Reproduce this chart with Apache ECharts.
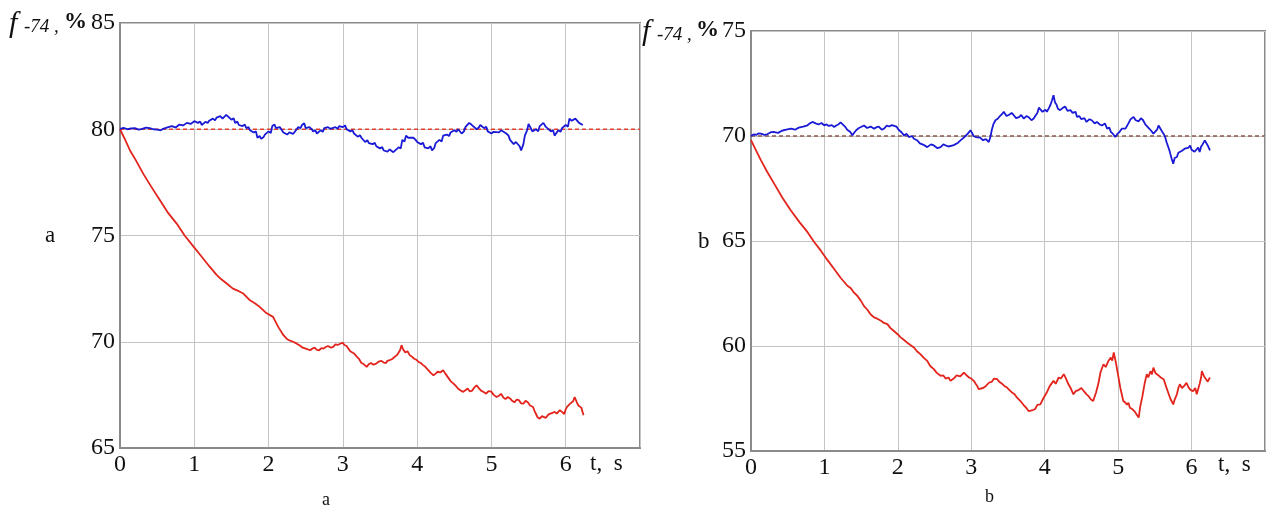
<!DOCTYPE html>
<html>
<head>
<meta charset="utf-8">
<script src="https://cdn.jsdelivr.net/npm/echarts@6/dist/echarts.min.js"></script>
<style>
  html, body { margin: 0; padding: 0; background: #fff; }
  #main { width: 1275px; height: 513px; }
</style>
</head>
<body>
<div id="main"></div>
<script>
// panel a: reference level and two traces [t, f]
const refA = 80;
const blueA = [[0,80.02],[0.05,80.06],[0.1,80.0],[0.15,80.04],[0.2,80.05],[0.25,79.98],[0.3,80.02],[0.35,80.08],[0.4,80.05],[0.45,80.0],[0.5,79.98],[0.55,79.95],[0.58,80.02],[0.6,80.0],[0.65,80.1],[0.7,80.15],[0.75,80.08],[0.8,80.22],[0.85,80.18],[0.9,80.3],[0.95,80.25],[1.0,80.38],[1.05,80.3],[1.08,80.36],[1.1,80.2],[1.15,80.35],[1.18,80.3],[1.2,80.4],[1.25,80.5],[1.28,80.42],[1.3,80.55],[1.35,80.62],[1.38,80.5],[1.4,80.55],[1.43,80.68],[1.45,80.6],[1.5,80.45],[1.53,80.52],[1.55,80.3],[1.58,80.36],[1.6,80.2],[1.65,80.15],[1.68,80.22],[1.7,80.05],[1.73,80.1],[1.75,79.95],[1.8,79.85],[1.83,79.9],[1.85,79.6],[1.88,79.68],[1.9,79.55],[1.93,79.62],[1.95,79.75],[2.0,79.9],[2.03,79.82],[2.05,80.15],[2.08,80.22],[2.1,80.05],[2.15,80.1],[2.18,79.95],[2.2,79.85],[2.25,79.75],[2.28,79.85],[2.3,79.9],[2.33,79.78],[2.35,79.85],[2.4,80.1],[2.43,80.05],[2.45,80.2],[2.48,80.28],[2.5,80.05],[2.55,80.1],[2.58,80.0],[2.6,79.9],[2.63,79.95],[2.65,79.8],[2.7,79.95],[2.73,79.88],[2.75,80.05],[2.8,80.1],[2.83,80.02],[2.85,79.95],[2.9,80.1],[2.93,80.02],[2.95,80.15],[3.0,80.1],[3.03,80.18],[3.05,80.0],[3.1,79.9],[3.13,79.95],[3.15,79.8],[3.2,79.65],[3.23,79.72],[3.25,79.6],[3.3,79.4],[3.33,79.48],[3.35,79.35],[3.4,79.3],[3.43,79.36],[3.45,79.2],[3.5,79.1],[3.53,79.16],[3.55,79.0],[3.6,78.95],[3.63,79.05],[3.65,79.0],[3.68,78.92],[3.7,79.0],[3.75,79.15],[3.78,79.1],[3.8,79.5],[3.83,79.42],[3.85,79.7],[3.88,79.6],[3.9,79.55],[3.95,79.6],[3.98,79.5],[4.0,79.4],[4.05,79.3],[4.08,79.36],[4.1,79.15],[4.15,79.1],[4.18,79.2],[4.2,79.0],[4.23,79.12],[4.25,79.35],[4.3,79.5],[4.33,79.42],[4.35,79.7],[4.4,79.75],[4.43,79.68],[4.45,79.85],[4.5,79.95],[4.53,79.88],[4.55,80.0],[4.6,79.8],[4.63,79.9],[4.65,80.1],[4.7,80.3],[4.73,80.22],[4.75,80.2],[4.8,80.0],[4.83,80.08],[4.85,80.2],[4.9,80.05],[4.93,80.12],[4.95,79.9],[5.0,79.8],[5.03,79.88],[5.05,79.95],[5.1,79.85],[5.13,79.95],[5.15,79.9],[5.2,79.8],[5.23,79.7],[5.25,79.5],[5.3,79.3],[5.33,79.4],[5.35,79.45],[5.38,79.2],[5.4,79.0],[5.43,79.3],[5.45,79.7],[5.48,79.95],[5.5,80.25],[5.53,80.05],[5.55,79.9],[5.6,80.0],[5.63,79.9],[5.65,80.15],[5.7,80.3],[5.73,80.12],[5.75,80.05],[5.8,79.9],[5.83,79.95],[5.85,79.7],[5.9,79.95],[5.93,79.88],[5.95,80.05],[6.0,80.2],[6.03,80.12],[6.05,80.5],[6.08,80.4],[6.1,80.35],[6.13,80.5],[6.15,80.45],[6.18,80.3],[6.2,80.25],[6.23,80.2]];
const redA = [[0,80],[0.07,79.5],[0.135,79.0],[0.22,78.5],[0.314,77.9],[0.42,77.3],[0.538,76.66],[0.65,76.05],[0.763,75.56],[0.87,75.0],[0.987,74.49],[1.1,74.0],[1.21,73.52],[1.3,73.15],[1.36,72.95],[1.436,72.74],[1.52,72.5],[1.6,72.38],[1.66,72.27],[1.75,71.95],[1.82,71.8],[1.88,71.64],[1.97,71.35],[2.06,71.17],[2.13,70.7],[2.2,70.31],[2.25,70.12],[2.29,70.05],[2.33,70.0],[2.38,69.91],[2.42,69.82],[2.46,69.72],[2.51,69.66],[2.56,69.6],[2.59,69.68],[2.62,69.72],[2.65,69.62],[2.68,69.6],[2.71,69.7],[2.74,69.68],[2.77,69.75],[2.8,69.8],[2.84,69.72],[2.87,69.76],[2.9,69.88],[2.93,69.85],[2.97,69.92],[3.0,69.95],[3.02,69.85],[3.05,69.8],[3.08,69.65],[3.1,69.55],[3.15,69.45],[3.19,69.29],[3.22,69.18],[3.25,69.0],[3.28,68.95],[3.32,68.82],[3.35,68.95],[3.38,69.0],[3.41,68.92],[3.45,68.97],[3.48,69.06],[3.52,69.1],[3.55,69.02],[3.58,69.0],[3.6,69.1],[3.63,69.13],[3.67,69.2],[3.7,69.3],[3.73,69.38],[3.75,69.45],[3.77,69.6],[3.79,69.84],[3.81,69.65],[3.84,69.5],[3.87,69.55],[3.9,69.37],[3.93,69.3],[3.96,69.2],[3.99,69.15],[4.02,69.05],[4.05,69.0],[4.08,68.9],[4.11,68.82],[4.14,68.7],[4.18,68.55],[4.22,68.42],[4.25,68.5],[4.28,68.6],[4.31,68.55],[4.35,68.66],[4.38,68.5],[4.42,68.3],[4.45,68.15],[4.49,68.03],[4.52,67.92],[4.55,67.8],[4.58,67.72],[4.62,67.64],[4.65,67.72],[4.68,67.8],[4.71,67.66],[4.74,67.7],[4.77,67.85],[4.8,67.95],[4.83,67.82],[4.86,67.7],[4.9,67.62],[4.93,67.56],[4.96,67.68],[5.0,67.65],[5.03,67.5],[5.07,67.4],[5.1,67.46],[5.13,67.55],[5.16,67.38],[5.19,67.3],[5.22,67.4],[5.25,67.33],[5.28,67.22],[5.31,67.15],[5.34,67.28],[5.37,67.25],[5.4,67.1],[5.43,67.09],[5.46,67.22],[5.49,67.15],[5.52,67.0],[5.56,66.93],[5.58,66.75],[5.6,66.6],[5.62,66.45],[5.65,66.38],[5.68,66.5],[5.7,66.55],[5.73,66.42],[5.75,66.45],[5.77,66.58],[5.79,66.54],[5.82,66.65],[5.85,66.7],[5.88,66.62],[5.92,66.78],[5.95,66.7],[5.98,66.6],[6.0,66.82],[6.02,66.95],[6.04,66.88],[6.06,67.09],[6.08,67.0],[6.1,67.2],[6.12,67.4],[6.15,67.15],[6.17,67.0],[6.19,67.05],[6.21,66.9],[6.24,66.54]];

// panel b
const refB = 70;
const blueB = [[0,70.0],[0.04,70.08],[0.07,70.05],[0.1,70.12],[0.136,70.11],[0.18,70.05],[0.22,70.08],[0.27,70.18],[0.317,70.19],[0.37,70.15],[0.42,70.25],[0.48,70.3],[0.543,70.35],[0.6,70.3],[0.65,70.4],[0.71,70.45],[0.77,70.51],[0.8,70.6],[0.838,70.67],[0.88,70.6],[0.92,70.55],[0.96,70.62],[0.996,70.51],[1.03,70.55],[1.06,70.48],[1.1,70.52],[1.132,70.43],[1.16,70.5],[1.19,70.55],[1.22,70.65],[1.245,70.59],[1.28,70.45],[1.31,70.3],[1.35,70.2],[1.381,70.03],[1.41,70.18],[1.44,70.3],[1.47,70.38],[1.495,70.43],[1.54,70.5],[1.58,70.38],[1.63,70.45],[1.676,70.35],[1.71,70.42],[1.74,70.45],[1.78,70.3],[1.812,70.35],[1.85,70.5],[1.88,70.45],[1.92,70.52],[1.947,70.56],[1.98,70.45],[2.01,70.3],[2.05,70.18],[2.083,70.03],[2.12,70.1],[2.15,69.95],[2.19,70.0],[2.219,69.87],[2.26,69.8],[2.3,69.65],[2.35,69.58],[2.4,69.47],[2.45,69.6],[2.49,69.55],[2.54,69.42],[2.582,69.47],[2.62,69.6],[2.65,69.55],[2.69,69.5],[2.717,69.44],[2.75,69.55],[2.78,69.6],[2.82,69.68],[2.853,69.79],[2.89,69.9],[2.92,70.0],[2.95,70.1],[2.989,70.27],[3.01,70.15],[3.03,70.0],[3.06,69.95],[3.08,69.87],[3.12,69.92],[3.16,69.8],[3.2,69.85],[3.238,69.71],[3.26,69.95],[3.28,70.3],[3.3,70.55],[3.329,70.75],[3.36,70.82],[3.39,70.95],[3.42,71.05],[3.442,71.15],[3.48,70.95],[3.51,71.0],[3.55,71.1],[3.578,70.99],[3.61,70.85],[3.65,70.9],[3.68,71.0],[3.714,70.83],[3.75,70.95],[3.78,70.9],[3.82,70.75],[3.85,70.83],[3.88,71.0],[3.9,71.1],[3.92,71.35],[3.94,71.3],[3.97,71.15],[3.99,71.1],[4.01,71.25],[4.03,71.15],[4.06,71.35],[4.08,71.5],[4.1,71.7],[4.12,71.94],[4.14,71.6],[4.16,71.5],[4.18,71.3],[4.21,71.23],[4.25,71.35],[4.28,71.4],[4.31,71.2],[4.35,71.23],[4.38,71.1],[4.4,71.05],[4.42,71.15],[4.44,70.91],[4.47,70.95],[4.5,70.8],[4.54,70.85],[4.57,70.67],[4.61,70.8],[4.64,70.75],[4.68,70.6],[4.71,70.67],[4.75,70.55],[4.78,70.5],[4.82,70.6],[4.85,70.35],[4.88,70.4],[4.9,70.2],[4.93,70.1],[4.96,69.95],[4.99,70.1],[5.02,70.2],[5.05,70.35],[5.07,70.43],[5.1,70.35],[5.14,70.6],[5.17,70.8],[5.21,70.91],[5.24,70.75],[5.28,70.7],[5.31,70.85],[5.34,70.75],[5.37,70.55],[5.41,70.4],[5.45,70.25],[5.48,70.11],[5.5,70.2],[5.53,70.3],[5.55,70.5],[5.57,70.43],[5.6,70.2],[5.62,70.1],[5.64,69.95],[5.66,69.7],[5.68,69.5],[5.7,69.3],[5.71,69.16],[5.73,68.9],[5.75,68.68],[5.77,68.95],[5.8,69.0],[5.82,69.2],[5.84,69.16],[5.87,69.3],[5.89,69.25],[5.91,69.4],[5.93,69.32],[5.96,69.45],[5.98,69.55],[6.0,69.35],[6.02,69.4],[6.04,69.25],[6.06,69.3],[6.09,69.45],[6.11,69.24],[6.13,69.5],[6.15,69.6],[6.18,69.79],[6.2,69.7],[6.22,69.55],[6.25,69.32]];
const redB = [[0,69.8],[0.07,69.3],[0.136,68.84],[0.22,68.3],[0.317,67.72],[0.43,67.05],[0.543,66.45],[0.66,65.9],[0.77,65.42],[0.86,64.95],[0.951,64.54],[1.04,64.1],[1.132,63.67],[1.22,63.25],[1.313,62.87],[1.36,62.75],[1.4,62.55],[1.45,62.38],[1.495,62.16],[1.54,61.9],[1.58,61.75],[1.63,61.5],[1.676,61.36],[1.72,61.3],[1.77,61.2],[1.81,61.1],[1.857,61.04],[1.9,60.85],[1.95,60.7],[2.0,60.55],[2.038,60.41],[2.08,60.3],[2.13,60.15],[2.17,60.05],[2.219,59.93],[2.26,59.75],[2.31,59.6],[2.35,59.45],[2.4,59.29],[2.44,59.05],[2.49,58.9],[2.53,58.72],[2.582,58.58],[2.62,58.6],[2.65,58.45],[2.69,58.5],[2.717,58.34],[2.76,58.45],[2.8,58.6],[2.85,58.55],[2.899,58.73],[2.93,58.62],[2.97,58.5],[3.0,58.45],[3.034,58.34],[3.06,58.2],[3.08,58.1],[3.1,57.95],[3.125,57.86],[3.16,58.0],[3.2,58.1],[3.24,58.25],[3.28,58.3],[3.31,58.45],[3.351,58.42],[3.38,58.3],[3.42,58.2],[3.45,58.1],[3.487,58.02],[3.52,57.9],[3.55,57.8],[3.59,57.7],[3.623,57.54],[3.67,57.38],[3.71,57.2],[3.75,57.05],[3.78,56.9],[3.804,56.83],[3.84,56.95],[3.87,57.0],[3.9,57.2],[3.94,57.22],[3.98,57.5],[4.03,57.8],[4.07,58.1],[4.12,58.34],[4.15,58.2],[4.19,58.5],[4.22,58.45],[4.26,58.66],[4.29,58.45],[4.32,58.2],[4.36,57.95],[4.39,57.7],[4.42,57.85],[4.46,57.9],[4.5,58.0],[4.53,57.86],[4.57,57.7],[4.6,57.6],[4.63,57.45],[4.66,57.38],[4.7,57.8],[4.73,58.2],[4.76,58.75],[4.8,59.13],[4.83,59.0],[4.87,59.3],[4.9,59.45],[4.92,59.3],[4.94,59.69],[4.97,59.2],[5.0,58.6],[5.03,58.0],[5.07,57.38],[5.1,57.3],[5.12,57.2],[5.14,57.3],[5.16,57.06],[5.19,57.0],[5.22,56.9],[5.25,56.75],[5.28,56.59],[5.3,57.1],[5.33,57.6],[5.36,58.2],[5.39,58.66],[5.41,58.5],[5.44,58.8],[5.46,58.65],[5.48,58.97],[5.51,58.7],[5.55,58.6],[5.58,58.5],[5.62,58.42],[5.65,58.1],[5.68,57.8],[5.71,57.5],[5.75,57.22],[5.77,57.45],[5.8,57.7],[5.82,58.0],[5.84,58.18],[5.87,58.0],[5.9,58.1],[5.93,58.25],[5.96,58.02],[5.99,57.9],[6.02,57.85],[6.05,58.0],[6.07,57.7],[6.09,57.95],[6.11,58.2],[6.13,58.5],[6.14,58.81],[6.17,58.55],[6.2,58.4],[6.22,58.3],[6.25,58.5]];

const tMax = 7;
const yRangeA = [65, 85];
const yRangeB = [55, 75];

var serif = 'Liberation Serif';
var chart = echarts.init(document.getElementById('main'));

function xAx(idx) {
  return {
    type: 'value', gridIndex: idx, min: 0, max: tMax, interval: 1,
    axisLine: { lineStyle: { color: '#8a8a8a', width: 2 } },
    axisTick: { show: false },
    splitLine: { lineStyle: { color: '#c4c4c4', width: 1 } },
    axisLabel: {
      color: '#111', fontFamily: serif, fontSize: 24, margin: 5,
      formatter: function (v) { return v === tMax ? '' : v; }
    }
  };
}
function yAx(idx, r) {
  return {
    type: 'value', gridIndex: idx, min: r[0], max: r[1], interval: 5,
    axisLine: { show: true, lineStyle: { color: '#8a8a8a', width: 2 } },
    axisTick: { show: false },
    splitLine: { lineStyle: { color: '#c4c4c4', width: 1 } },
    axisLabel: { color: '#111', fontFamily: serif, fontSize: 24, margin: 5 }
  };
}
function trace(idx, data, color) {
  return {
    type: 'line', xAxisIndex: idx, yAxisIndex: idx, data: data,
    showSymbol: false, animation: false,
    lineStyle: { color: color, width: 1.8 }
  };
}
function ref(idx, v, color) {
  return {
    type: 'line', xAxisIndex: idx, yAxisIndex: idx,
    data: [[0, v], [tMax, v]], showSymbol: false, animation: false, z: 1,
    lineStyle: { color: color, width: 1.5, type: [4, 3] }
  };
}
function txt(left, top, text, font) {
  return { type: 'text', left: left, top: top, style: { text: text, font: font, fill: '#111' } };
}

var option = {
  backgroundColor: '#fff',
  grid: [
    { left: 120, top: 23, width: 520, height: 425, show: true, borderColor: '#8a8a8a', borderWidth: 2 },
    { left: 751, top: 31, width: 514, height: 420, show: true, borderColor: '#8a8a8a', borderWidth: 2 }
  ],
  xAxis: [xAx(0), xAx(1)],
  yAxis: [yAx(0, yRangeA), yAx(1, yRangeB)],
  series: [
    ref(0, refA, '#e0402c'),
    trace(0, redA, '#e3241c'),
    trace(0, blueA, '#1a1ad6'),
    ref(1, refB, '#8c5a4c'),
    trace(1, redB, '#e3241c'),
    trace(1, blueB, '#1a1ad6')
  ],
  graphic: [
    // y axis names
    txt(9, 9, 'f', 'italic 30px ' + serif),
    txt(24, 17, '-74 ,', 'italic 19px ' + serif),
    txt(64, 11, '%', 'bold 23px ' + serif),
    txt(642, 17, 'f', 'italic 30px ' + serif),
    txt(657, 25, '-74 ,', 'italic 19px ' + serif),
    txt(696, 19, '%', 'bold 23px ' + serif),
    // side letters
    txt(45, 224, 'a', '23px ' + serif),
    txt(698, 230, 'b', '23px ' + serif),
    // time units
    txt(590, 452, 't,  s', '23px ' + serif),
    txt(1218, 453, 't,  s', '23px ' + serif),
    // captions
    txt(322, 491, 'a', '18px ' + serif),
    txt(985, 488, 'b', '18px ' + serif)
  ]
};
chart.setOption(option);
</script>
</body>
</html>
